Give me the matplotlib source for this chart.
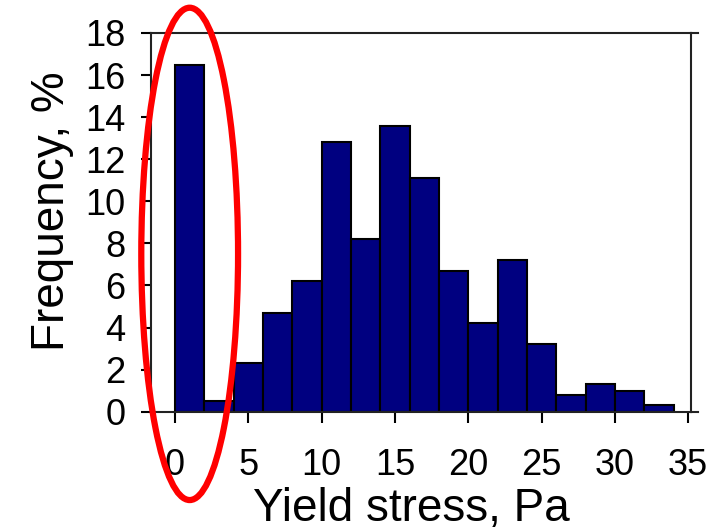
import matplotlib as mpl
mpl.use('Agg')
import matplotlib.pyplot as plt
from matplotlib.patches import Ellipse
from matplotlib.lines import Line2D

plt.rcParams['font.family'] = ['Liberation Sans', 'DejaVu Sans']

# histogram of yield stress, 2 Pa bins
bin_left = [0, 2, 4, 6, 8, 10, 12, 14, 16, 18, 20, 22, 24, 26, 28, 30, 32]
freq = [16.5, 0.5, 2.3, 4.7, 6.2, 12.8, 8.2, 13.6, 11.1, 6.7, 4.2, 7.2, 3.2, 0.8, 1.3, 1.0, 0.3]
bin_width = 2
xticks = [0, 5, 10, 15, 20, 25, 30, 35]
yticks = [0, 2, 4, 6, 8, 10, 12, 14, 16, 18]

fig = plt.figure(figsize=(7.23, 5.31), dpi=100)
ax = fig.add_axes([0.2084, 0.2247, 0.7469, 0.7132])

ax.bar(bin_left, freq, width=bin_width, align='edge', color='#000080',
       edgecolor='black', linewidth=1.5, zorder=2)

ax.set_xlim(-1.66, 35.17)
ax.set_ylim(0, 18)
ax.set_xticks(xticks)
ax.set_yticks(yticks)
ax.tick_params(axis='x', direction='out', length=8, width=1.5, pad=18, labelsize=26)
ax.tick_params(axis='y', direction='out', length=7, width=1.5, pad=11, labelsize=26)
for s in ax.spines.values():
    s.set_linewidth(1.5)
    s.set_color('#222222')

# small stubs where top/bottom lines run past the right spine
for yy in (0, 1):
    ax.add_line(Line2D([1, 1.013], [yy, yy], transform=ax.transAxes,
                       color='#222222', lw=1.5, clip_on=False))

ax.set_xlabel('Yield stress, Pa', fontsize=33, labelpad=3)
ax.set_ylabel('Frequency, %', fontsize=33, labelpad=8)
ax.xaxis.label.set_x(0.482)
ax.yaxis.label.set_y(0.53)

# red ellipse highlighting the first bins
ax.add_patch(Ellipse((1.0, 7.5), 6.6, 23.4, fill=False, edgecolor='red',
                     linewidth=4.5, clip_on=False, zorder=5))

plt.savefig('out.png', dpi=100)
